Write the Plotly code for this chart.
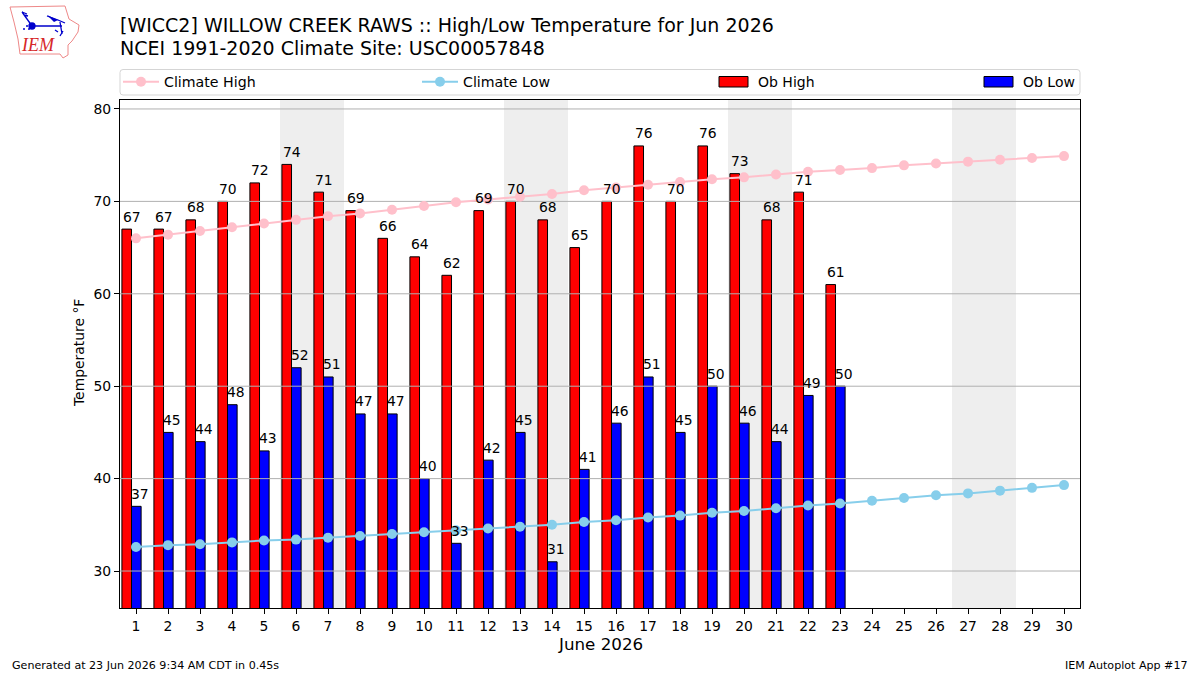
import base64
import plotly.graph_objects as go

days = list(range(1, 31))
ob_high = [67,67,68,70,72,74,71,69,66,64,62,69,70,68,65,70,76,70,76,73,68,71,61]
ob_low = [37,45,44,48,43,52,51,47,47,40,33,42,45,31,41,46,51,45,50,46,44,49,50]
clim_high = [66.0,66.4,66.8,67.2,67.6,68.0,68.4,68.7,69.1,69.5,69.9,70.2,70.5,70.8,71.2,71.5,71.8,72.1,72.4,72.6,72.9,73.2,73.4,73.6,73.9,74.1,74.3,74.5,74.7,74.9]
clim_low = [32.6,32.8,32.9,33.1,33.3,33.4,33.6,33.8,34.0,34.2,34.4,34.6,34.8,35.0,35.3,35.5,35.8,36.0,36.3,36.5,36.8,37.1,37.3,37.6,37.9,38.2,38.4,38.7,39.0,39.3]
y_ticks = [30, 40, 50, 60, 70, 80]
weekends = [(5.5, 7.5), (12.5, 14.5), (19.5, 21.5), (26.5, 28.5)]
FONT = "DejaVu Sans"
W, H = 1200, 675
L, R, T, B = 120, 1080, 100, 608

def px(v):
    return (v - L) / (R - L)

def py(v):
    return (B - v) / (B - T)

fig = go.Figure()
fig.add_trace(go.Bar(x=days[:len(ob_high)], y=ob_high, name="Ob High", width=0.3, offset=-0.44,
                     showlegend=False,
                     marker=dict(color="#ff0000", line=dict(color="black", width=1))))
fig.add_trace(go.Bar(x=days[:len(ob_low)], y=ob_low, name="Ob Low", width=0.3, offset=-0.14,
                     showlegend=False,
                     marker=dict(color="#0000ff", line=dict(color="black", width=1))))
gx, gy = [], []
for v in y_ticks:
    gx += [0.5, 30.5, None]
    gy += [v, v, None]
fig.add_trace(go.Scatter(x=gx, y=gy, mode="lines", line=dict(color="#b0b0b0", width=1),
                         showlegend=False, hoverinfo="skip"))
fig.add_trace(go.Scatter(x=days, y=clim_high, name="Climate High", mode="lines+markers", legend="legend",
                         line=dict(color="#ffc0cb", width=2), marker=dict(color="#ffc0cb", size=10)))
fig.add_trace(go.Scatter(x=days, y=clim_low, name="Climate Low", mode="lines+markers", legend="legend2",
                         line=dict(color="#87ceeb", width=2), marker=dict(color="#87ceeb", size=10)))

for a, b in weekends:
    fig.add_shape(type="rect", xref="x", yref="paper", x0=a, x1=b, y0=0, y1=1,
                  fillcolor="#eeeeee", line_width=0, layer="below")

for d, v in zip(days, ob_high):
    fig.add_annotation(x=d - 0.12, y=v, text=str(v), showarrow=False, yanchor="bottom", yshift=4.5,
                       borderpad=0, borderwidth=0, font=dict(family=FONT, size=13.9, color="black"))
for d, v in zip(days, ob_low):
    fig.add_annotation(x=d + 0.13, y=v, text=str(v), showarrow=False, yanchor="bottom", yshift=4.5,
                       borderpad=0, borderwidth=0, font=dict(family=FONT, size=13.9, color="black"))

def note(x, y, text, size, xanchor="left", color="black", family=FONT, rot=0):
    fig.add_annotation(xref="paper", yref="paper", x=px(x), y=py(y),
                       text=text, showarrow=False, xanchor=xanchor, yanchor="middle",
                       borderpad=0, borderwidth=0,
                       textangle=rot, font=dict(family=family, size=size, color=color))

note(120, 25, "[WICC2] WILLOW CREEK RAWS :: High/Low Temperature for Jun 2026", 19)
note(120, 48, "NCEI 1991-2020 Climate Site: USC00057848", 19)
note(12, 665, "Generated at 23 Jun 2026 9:34 AM CDT in 0.45s", 11.1)
note(1188, 665, "IEM Autoplot App #17", 11.1, xanchor="right")
note(600, 644, "June 2026", 16.7, xanchor="center")
note(79, 353, "Temperature °F", 13.9, xanchor="center", rot=-90)
note(21, 45, "<i>IEM</i>", 18, color="#d62728", family="Liberation Serif")

# legend frame and bar keys
fig.add_shape(type="path", xref="paper", yref="paper",
              path=(f"M {px(123)} {py(69.5)} L {px(1077)} {py(69.5)} Q {px(1080)} {py(69.5)} {px(1080)} {py(72.5)} "
                    f"L {px(1080)} {py(92)} Q {px(1080)} {py(95)} {px(1077)} {py(95)} "
                    f"L {px(123)} {py(95)} Q {px(120)} {py(95)} {px(120)} {py(92)} "
                    f"L {px(120)} {py(72.5)} Q {px(120)} {py(69.5)} {px(123)} {py(69.5)} Z"),
              line=dict(color="#d5d5d5", width=1), fillcolor="white", layer="above")
for x0, color, label in [(719, "#ff0000", "Ob High"), (984, "#0000ff", "Ob Low")]:
    fig.add_shape(type="rect", xref="paper", yref="paper", x0=px(x0), x1=px(x0 + 29), y0=py(87), y1=py(76.5),
                  fillcolor=color, line=dict(color="black", width=1), layer="above")
    note(x0 + 39, 81.5, label, 14)

logo = """<svg xmlns='http://www.w3.org/2000/svg' width='90' height='65' viewBox='0 0 90 65'>
<path d='M10 7 L65 6 L69 19 L79 25 L78 32 L72 41 L68 45 L68 55 L63 58 L60 54 L20 54 L18 39 L14 22 Z' fill='none' stroke='#ee8888' stroke-width='1'/>
<g stroke='#0000cc' fill='none' stroke-width='1.3'>
<path d='M32 26 H62 M60 22 L62 34 M22 12 L32 26 M22 12 L27 14 M24 15 L28 16 M47 16 L58 20 L65 23 M55 30 L58 32 M63 31 L60 36'/>
<circle cx='32' cy='26' r='3' fill='#0000cc'/>
</g>
<path d='M47 15 L58 20 L54 22 Z' fill='#0000cc'/>
<circle cx='24' cy='29' r='1' fill='#0000cc'/><circle cx='27' cy='26' r='1' fill='#0000cc'/><circle cx='29' cy='29' r='1' fill='#0000cc'/>
</svg>"""
fig.add_layout_image(source="data:image/svg+xml;base64," + base64.b64encode(logo.encode()).decode(),
                     xref="paper", yref="paper", x=px(0), y=py(0),
                     sizex=90 / (R - L), sizey=65 / (B - T), xanchor="left", yanchor="top",
                     sizing="stretch", layer="above")

axis_common = dict(showline=True, linecolor="black", linewidth=1, mirror=True, ticks="outside",
                   ticklen=5, tickcolor="black", showgrid=False, zeroline=False,
                   tickfont=dict(family=FONT, size=13.9, color="black"))
legend_common = dict(orientation="h", xanchor="left", yanchor="middle", y=py(82), itemwidth=36,
                     bgcolor="rgba(0,0,0,0)", borderwidth=0,
                     font=dict(family=FONT, size=14.2, color="black"))
fig.update_layout(
    width=W, height=H, autosize=False, paper_bgcolor="white", plot_bgcolor="white",
    margin=dict(l=L, r=W - R, t=T, b=H - B, pad=0), barmode="overlay", hovermode=False,
    font=dict(family=FONT),
    xaxis=dict(range=[0.5, 30.5], tickmode="array", tickvals=days, ticktext=[str(d) for d in days], **axis_common),
    yaxis=dict(range=[26, 80.97], tickmode="array", tickvals=y_ticks, ticktext=[str(v) for v in y_ticks], **axis_common),
    legend=dict(x=px(118), **legend_common),
    legend2=dict(x=px(417), **legend_common),
)
fig.write_html("out.html", config={"displayModeBar": False},
               post_script="document.body.style.margin='0';document.body.style.overflow='hidden';")
